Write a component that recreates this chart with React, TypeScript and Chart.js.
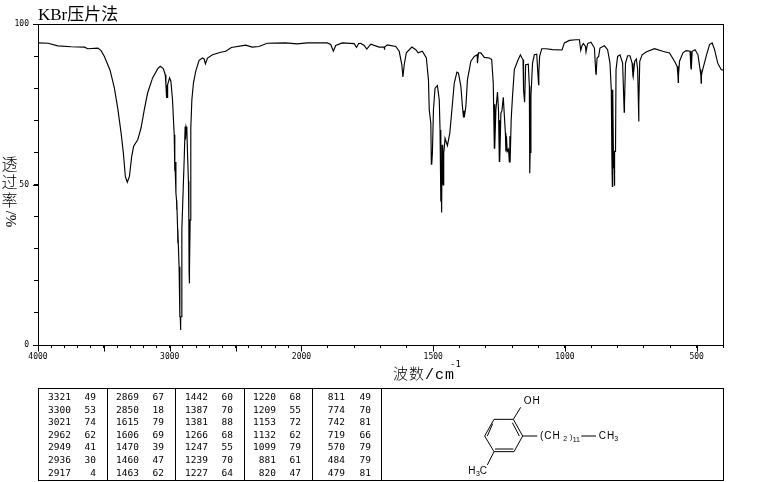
import React, { useEffect, useRef } from "react";
import { Chart, registerables } from "chart.js";

Chart.register(...registerables);

// Spectrum
const wavenumbers = [
  4000, 3924, 3849, 3748, 3647, 3622, 3546, 3521, 3496, 3453, 3420, 3395, 3369, 3352, 3337, 3322, 3306, 3289, 3274, 3243,
  3218, 3193, 3168, 3130, 3092, 3072, 3049, 3034, 3029, 3024, 3022, 3020, 3016, 3001, 2991, 2979, 2966, 2962, 2961, 2960,
  2953, 2948, 2947, 2946, 2940, 2939, 2938, 2929, 2923, 2920, 2918, 2916, 2911, 2908, 2898, 2890, 2883, 2880, 2876, 2870,
  2865, 2858, 2855, 2853, 2852, 2851, 2850, 2848, 2845, 2840, 2832, 2820, 2802, 2777, 2751, 2739, 2729, 2713, 2675, 2613,
  2575, 2532, 2424, 2374, 2323, 2260, 2121, 2033, 1978, 1902, 1889, 1879, 1870, 1845, 1800, 1791, 1783, 1775, 1762, 1752,
  1737, 1705, 1686, 1685, 1684, 1674, 1642, 1629, 1619, 1615, 1610, 1602, 1581, 1566, 1557, 1541, 1526, 1518, 1515, 1509,
  1507, 1506, 1505, 1503, 1499, 1493, 1484, 1477, 1474, 1471, 1470, 1469, 1468, 1467, 1466, 1465, 1463, 1462, 1460, 1458,
  1455, 1446, 1437, 1429, 1420, 1410, 1404, 1395, 1389, 1385, 1383, 1382, 1376, 1370, 1357, 1344, 1333, 1332, 1328, 1319,
  1306, 1287, 1278, 1272, 1268, 1267, 1266, 1262, 1256, 1252, 1249, 1248, 1247, 1243, 1239, 1234, 1229, 1226, 1224, 1222,
  1219, 1214, 1211, 1209, 1208, 1204, 1199, 1192, 1180, 1169, 1163, 1159, 1157, 1153, 1149, 1139, 1135, 1134, 1133, 1132,
  1129, 1123, 1116, 1107, 1100, 1099, 1096, 1088, 1072, 1047, 1011, 1002, 983, 958, 945, 940, 935, 930, 922, 920,
  914, 901, 888, 883, 882, 881, 878, 872, 867, 850, 838, 829, 824, 822, 820, 819, 818, 816, 815, 813, 812, 811,
  808, 806, 800, 791, 781, 776, 775, 774, 770, 762, 753, 745, 742, 741, 735, 729, 724, 721, 720, 719, 716, 707,
  692, 660, 629, 603, 584, 574, 571, 570, 569, 565, 552, 540, 525, 522, 521, 520, 517, 506, 495, 487, 484, 483,
  482, 479, 464, 451, 441, 432, 420, 407, 400,
];
const transmittance = [
  94.1, 94.0, 93.2, 92.9, 92.8, 92.3, 92.5, 91.7, 89.9, 85.6, 80.0, 73.8, 66.0, 59.8, 52.5, 50.7, 52.5, 58.7, 61.9, 63.9,
  67.6, 73.3, 78.5, 83.2, 86.0, 86.8, 86.1, 84.2, 81.1, 77.1, 81.0, 77.1, 81.1, 83.2, 82.1, 76.4, 65.5, 57.0, 54.1, 57.0,
  47.3, 45.0, 42.1, 45.0, 36.0, 31.7, 36.0, 24.4, 8.8, 8.8, 4.7, 8.8, 8.8, 35.9, 48.3, 58.2, 68.1, 64.0, 68.0, 67.0,
  59.8, 51.0, 39.0, 22.9, 39.0, 22.9, 19.2, 22.9, 39.0, 67.6, 76.4, 81.6, 85.4, 88.7, 89.4, 89.1, 87.6, 89.4, 90.4, 91.2,
  91.5, 92.7, 93.4, 92.8, 93.0, 94.0, 94.1, 93.8, 94.1, 94.1, 93.6, 91.5, 93.3, 94.1, 93.9, 92.7, 93.9, 94.0, 93.3, 92.2,
  93.7, 92.8, 92.8, 92.0, 92.8, 93.5, 93.0, 91.5, 87.3, 83.5, 87.3, 91.0, 92.8, 92.0, 91.0, 91.5, 89.4, 82.6, 73.3, 69.1,
  56.3, 60.0, 56.3, 59.8, 73.3, 80.0, 80.8, 76.4, 67.0, 44.7, 55.0, 41.3, 55.0, 42.0, 62.4, 50.0, 62.0, 49.9, 60.0, 61.3,
  64.4, 62.1, 66.0, 73.3, 81.6, 85.0, 84.7, 80.6, 74.3, 70.9, 73.0, 70.9, 74.3, 82.6, 88.4, 89.9, 90.4, 87.8, 91.0, 91.0,
  89.6, 89.4, 88.9, 81.6, 61.3, 75.0, 61.3, 73.3, 78.8, 73.0, 57.2, 70.0, 57.2, 72.2, 73.0, 77.2, 70.2, 66.0, 60.3, 65.0,
  60.3, 61.0, 57.0, 65.0, 56.9, 70.2, 77.4, 85.8, 88.4, 90.4, 89.4, 88.9, 79.5, 75.6, 87.3, 87.5, 80.6, 60.0, 53.5, 60.0,
  77.4, 87.8, 90.4, 90.6, 81.1, 85.0, 89.9, 92.3, 92.3, 92.0, 91.9, 94.1, 94.9, 95.1, 95.1, 91.8, 93.3, 93.9, 93.0, 91.3,
  93.9, 94.3, 92.5, 85.0, 84.4, 85.0, 89.4, 89.9, 92.5, 93.2, 92.0, 87.8, 79.5, 60.0, 49.4, 60.0, 79.5, 60.0, 55.0, 60.0, 49.6, 60.3,
  60.3, 85.8, 89.9, 90.4, 87.8, 75.0, 72.5, 75.0, 87.8, 90.1, 90.1, 87.8, 84.0, 83.5, 88.4, 89.1, 86.0, 75.0, 69.6, 75.0, 88.4, 90.4,
  91.3, 92.3, 91.5, 91.0, 88.4, 86.8, 84.0, 81.8, 84.0, 88.4, 91.0, 91.7, 91.5, 86.5, 86.0, 86.5, 91.5, 92.0, 90.4, 85.8, 84.0, 81.6,
  84.0, 85.2, 89.9, 93.6, 94.1, 92.0, 87.8, 85.8, 85.6,
];

// Peak table, read column by column
const peakWavenumbers = [
  ["3321", "3300", "3021", "2962", "2949", "2936", "2917"],
  ["2869", "2850", "1615", "1606", "1470", "1460", "1463"],
  ["1442", "1387", "1381", "1266", "1247", "1239", "1227"],
  ["1220", "1209", "1153", "1132", "1099", "881", "820"],
  ["811", "774", "742", "719", "570", "484", "479"],
];
const peakValues = [
  ["49", "53", "74", "62", "41", "30", "4"],
  ["67", "18", "79", "69", "39", "47", "62"],
  ["60", "70", "88", "68", "55", "70", "64"],
  ["68", "55", "72", "62", "79", "61", "47"],
  ["49", "70", "81", "66", "79", "79", "81"],
];

const xMajorLabels = [4000, 3000, 2000, 1500, 1000, 500];
const yLabels = [0, 50, 100];
const titleText = "KBr压片法";
const xTitleText = "波数/cm";
const xTitleSup = "-1";
const yTitleChars = ["透", "过", "率"];
const yTitleUnit = "/%";

// Wavenumber axis: below 2000 cm-1 the scale is expanded by a factor of two
const axisPos = (w: number) => (w >= 2000 ? (4000 - w) / 2 : 1000 + (2000 - w));
const axisTicks: number[] = [];
for (let w = 4000; w >= 400; w -= 100) axisTicks.push(w);

const CJK = '"Noto Sans CJK SC"';
const MONO = '"DejaVu Sans Mono"';

const decorations = {
  id: "decorations",
  afterDraw(chart: any) {
    const c = chart.ctx as CanvasRenderingContext2D & { letterSpacing: string };
    c.save();
    c.fillStyle = "#000";
    c.strokeStyle = "#000";
    c.lineWidth = 1;
    c.textBaseline = "alphabetic";
    c.textAlign = "left";

    // Longer ticks at the major positions
    const xs = chart.scales.x;
    const ys = chart.scales.y;
    const axisY = Math.round(chart.chartArea.bottom) + 0.5;
    axisTicks
      .filter((w) => w % 500 === 0)
      .forEach((w) => {
        const px = Math.round(xs.getPixelForValue(axisPos(w))) + 0.5;
        c.beginPath();
        c.moveTo(px, axisY);
        c.lineTo(px, axisY + 6);
        c.stroke();
      });
    yLabels.forEach((v) => {
      const py = Math.round(ys.getPixelForValue(v)) + 0.5;
      c.beginPath();
      c.moveTo(33, py);
      c.lineTo(38, py);
      c.stroke();
    });

    // Heading
    c.font = `17px "Liberation Serif", ${CJK}`;
    c.fillText(titleText, 38, 20);

    // X title
    c.letterSpacing = "1px";
    c.font = `300 15px "Liberation Mono", ${CJK}`;
    c.fillText(xTitleText, 393, 379);
    c.letterSpacing = "0px";
    c.font = `9px ${MONO}`;
    c.fillText(xTitleSup, 450, 367);

    // Y title, set vertically
    c.font = `300 16px ${CJK}`;
    c.textAlign = "center";
    c.textBaseline = "middle";
    yTitleChars.forEach((ch, i) => {
      c.fillText(ch, 9.5, 163.5 + i * 18.3);
    });
    c.save();
    c.translate(9.5, 219);
    c.rotate(Math.PI / 2);
    c.font = `15px "Liberation Serif"`;
    c.fillText(yTitleUnit, 0, 0);
    c.restore();
    c.textAlign = "left";
    c.textBaseline = "alphabetic";

    // Peak table
    const top = 388.5, bottom = 480.5, left = 38.5, right = 723.5;
    c.strokeRect(left, top, right - left, bottom - top);
    const dividers = [107.5, 175.5, 244.5, 312.5, 381.5];
    dividers.forEach((d) => {
      c.beginPath();
      c.moveTo(d, top);
      c.lineTo(d, bottom);
      c.stroke();
    });
    c.font = `9.5px ${MONO}`;
    const colRightA = [71, 139, 208, 276, 345];
    const colRightB = [96, 164, 233, 301, 371];
    c.textBaseline = "middle";
    c.textAlign = "right";
    peakWavenumbers.forEach((col, i) => {
      col.forEach((w, r) => {
        const y = 397.5 + r * 12.6;
        c.fillText(w, colRightA[i], y);
        c.fillText(peakValues[i][r], colRightB[i], y);
      });
    });
    c.textAlign = "left";

    // Structure
    const P = (x: number, y: number): [number, number] => [380 + x / 3, 330 + y / 3];
    const seg = (a: number, b: number, e: number, f: number) => {
      c.beginPath();
      c.moveTo(...P(a, b));
      c.lineTo(...P(e, f));
      c.stroke();
    };
    seg(342, 268, 400, 268);
    seg(400, 268, 428, 318);
    seg(428, 318, 402, 365);
    seg(402, 365, 342, 365);
    seg(342, 365, 314, 318);
    seg(314, 318, 342, 268);
    seg(338, 281, 322, 318);
    seg(397, 278, 418, 318);
    seg(345, 357, 400, 357);
    seg(400, 268, 422, 232);
    seg(428, 318, 472, 318);
    seg(604, 318, 648, 318);
    seg(342, 365, 322, 405);
    c.font = `10px "Liberation Sans"`;
    c.textBaseline = "middle";
    const label = (t: string, x: number, y: number) => c.fillText(t, ...P(x, y));
    c.letterSpacing = "1px";
    label("OH", 431, 213);
    label("(CH", 480, 320);
    label("CH", 656, 319);
    c.letterSpacing = "0px";
    label("H", 265, 424);
    label("C", 299, 424);
    c.font = `7px "Liberation Sans"`;
    label("2", 550, 326);
    label(")", 570, 320);
    label("11", 578, 330);
    label("3", 703, 326);
    label("3", 288, 432);
    c.restore();
  },
};

export default function App() {
  const ref = useRef<HTMLCanvasElement | null>(null);
  useEffect(() => {
    document.body.style.margin = "0";
    document.body.style.background = "#fff";
    const chart = new Chart(ref.current!, {
      type: "line",
      data: {
        datasets: [
          {
            label: "Transmittance",
            data: wavenumbers.map((w, i) => ({ x: axisPos(w), y: transmittance[i] })),
            borderColor: "#000",
            borderWidth: 1.15,
            pointRadius: 0,
            tension: 0,
            fill: false,
          },
        ],
      },
      plugins: [decorations],
      options: {
        animation: false,
        responsive: false,
        devicePixelRatio: 1,
        parsing: false,
        normalized: true,
        events: [],
        layout: { padding: { left: 0, top: 24, right: 42, bottom: 97 } },
        plugins: { legend: { display: false }, tooltip: { enabled: false }, title: { display: false } },
        scales: {
          x: {
            type: "linear",
            min: axisPos(4000),
            max: axisPos(400),
            afterBuildTicks: (s: any) => {
              s.ticks = axisTicks.map((w) => ({ value: axisPos(w), major: w % 500 === 0 }));
            },
            afterFit: (s: any) => {
              s.height = 40;
            },
            border: { display: true, color: "#000", width: 1 },
            grid: {
              drawOnChartArea: false,
              drawTicks: true,
              color: "#000",
              tickLength: 3,
              tickColor: "#000",
              lineWidth: 1,
            } as any,
            ticks: {
              color: "#000",
              autoSkip: false,
              maxRotation: 0,
              minRotation: 0,
              padding: 4,
              font: { family: "DejaVu Sans Mono", size: 8 },
              callback: (_v: any, i: number) => {
                const w = axisTicks[i];
                return xMajorLabels.includes(w) ? String(w) : "";
              },
            },
          },
          y: {
            type: "linear",
            min: 0,
            max: 100,
            afterFit: (s: any) => {
              s.width = 38;
            },
            border: { display: true, color: "#000", width: 1 },
            grid: { drawOnChartArea: false, color: "#000", tickLength: 4 } as any,
            ticks: {
              color: "#000",
              stepSize: 10,
              autoSkip: false,
              padding: 5,
              font: { family: "DejaVu Sans Mono", size: 8 },
              callback: (v: any) => (yLabels.includes(Number(v)) ? String(v) : ""),
            },
          },
          right: {
            type: "linear",
            position: "right",
            display: true,
            min: 0,
            max: 100,
            afterFit: (s: any) => {
              s.width = 0;
            },
            border: { display: true, color: "#000", width: 1 },
            grid: { display: false },
            ticks: { display: false },
          },
          top: {
            type: "linear",
            position: "top",
            display: true,
            min: 0,
            max: 1,
            afterFit: (s: any) => {
              s.height = 0;
            },
            border: { display: true, color: "#000", width: 1 },
            grid: { display: false },
            ticks: { display: false },
          },
        },
      } as any,
    });
    return () => chart.destroy();
  }, []);
  return (
    <div style={{ position: "absolute", left: 0, top: 0, width: 765, height: 482 }}>
      <canvas ref={ref} width={765} height={482} style={{ display: "block" }} />
    </div>
  );
}
